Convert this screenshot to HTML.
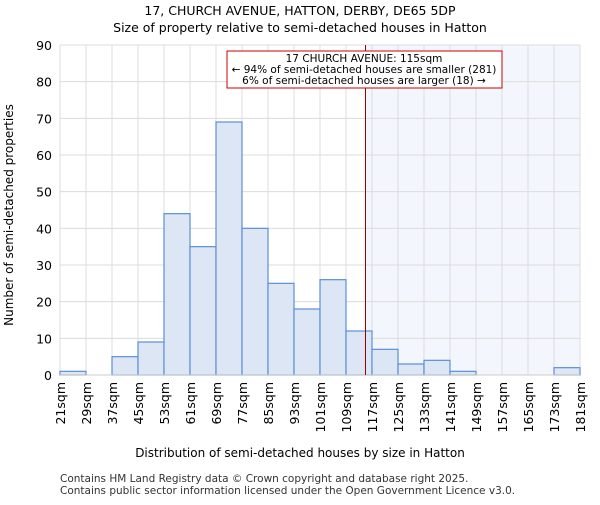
<!DOCTYPE html>
<html><head><meta charset="utf-8"><style>body{margin:0;background:#fff}svg text{font-family:"DejaVu Sans","Liberation Sans",sans-serif}</style></head>
<body>
<svg id="c" width="600" height="500" xmlns="http://www.w3.org/2000/svg">
<text x="300" y="15" text-anchor="middle" font-size="12.5">17, CHURCH AVENUE, HATTON, DERBY, DE65 5DP</text>
<text x="300" y="32" text-anchor="middle" font-size="12.5">Size of property relative to semi-detached houses in Hatton</text>
<g id="plot"></g>
<text x="300" y="457" text-anchor="middle" font-size="12">Distribution of semi-detached houses by size in Hatton</text>
<text transform="translate(13,215) rotate(-90)" text-anchor="middle" font-size="12">Number of semi-detached properties</text>
<text x="60" y="482" font-size="10.5" fill="#333">Contains HM Land Registry data © Crown copyright and database right 2025.</text>
<text x="60" y="494" font-size="10.5" fill="#333">Contains public sector information licensed under the Open Government Licence v3.0.</text>
</svg>
<script>
const binStarts=[21,29,37,45,53,61,69,77,85,93,101,109,117,125,133,141,149,157,165,173];
const counts=[1,0,5,9,44,35,69,40,25,18,26,12,7,3,4,1,0,0,0,2];
const xTickLabels=[21,29,37,45,53,61,69,77,85,93,101,109,117,125,133,141,149,157,165,173,181];
const yTicks=[0,10,20,30,40,50,60,70,80,90];
const propertySize=115;
const NS="http://www.w3.org/2000/svg";
const L=60,R=580,T=45,B=375,xmin=21,xmax=181,ymax=90;
const xs=v=>L+(v-xmin)/(xmax-xmin)*(R-L);
const ys=v=>B-v/ymax*(B-T);
const g=document.getElementById('plot');
function mk(t,a){const e=document.createElementNS(NS,t);for(const k in a)e.setAttribute(k,a[k]);g.appendChild(e);return e;}
let e=mk('rect',{x:xs(propertySize),y:T,width:R-xs(propertySize),height:B-T,fill:'#f3f6fd'});


yTicks.forEach(v=>{let l=mk('line',{x1:L,x2:R,y1:ys(v),y2:ys(v),stroke:'#dcdcdc'});


let t=mk('text',{x:L-8,y:ys(v)+5,'text-anchor':'end','font-size':'12.5'});t.textContent=v;

});
xTickLabels.forEach(v=>{let l=mk('line',{x1:xs(v),x2:xs(v),y1:T,y2:B,stroke:'#dcdcdc'});


let t=mk('text',{transform:`translate(${xs(v)+5},382) rotate(-90)`,'text-anchor':'end','font-size':'12.5'});t.textContent=v+'sqm';

});
binStarts.forEach((s,i)=>{let r=mk('rect',{x:xs(s),y:ys(counts[i]),width:xs(s+8)-xs(s),height:B-ys(counts[i]),fill:'#dce6f4',stroke:'#5b8fd6','stroke-width':1.2});

});
let ax=mk('line',{x1:L,x2:R,y1:B,y2:B,stroke:'#ccc'});


let pl=mk('line',{x1:xs(propertySize),x2:xs(propertySize),y1:T,y2:B,stroke:'#990000','stroke-width':1});


let box=mk('rect',{x:227,y:51,width:275,height:37,fill:'#fff',stroke:'#cc0000','stroke-width':1});


[['17 CHURCH AVENUE: 115sqm',62],['← 94% of semi-detached houses are smaller (281)',73],['6% of semi-detached houses are larger (18) →',84]].forEach(([s,y])=>{let t=mk('text',{x:364,y:y,'text-anchor':'middle','font-size':'10.5'});t.textContent=s;

});
</script>
</body></html>
